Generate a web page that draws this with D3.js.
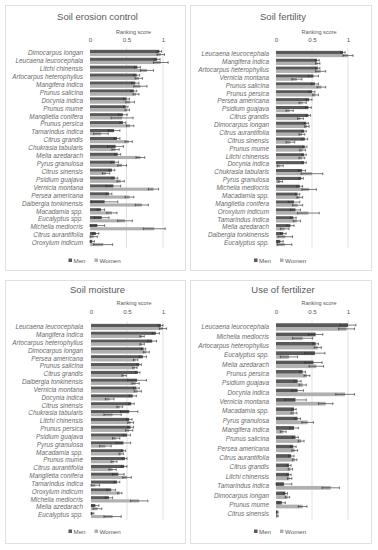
<!DOCTYPE html>
<html>
<head>
<meta charset="utf-8">
<script src="https://cdn.jsdelivr.net/npm/d3@7"></script>
<style>
  body { margin: 0; background: #fff; }
  svg { display: block; font-family: "Liberation Sans", Arial, sans-serif; }
</style>
</head>
<body>
<div id="chart"></div>
<script>
var width = 378, height = 550;

// ---- data (ranking scores) ----
var erosionSpecies = ["Dimocarpus longan", "Leucaena leucocephala", "Litchi chinensis", "Artocarpus heterophyllus",
  "Mangifera indica", "Prunus salicina", "Docynia indica", "Prunus mume", "Manglietia conifera", "Prunus persica",
  "Tamarindus indica", "Citrus grandis", "Chukrasia tabularis", "Melia azedarach", "Pyrus granulosa",
  "Citrus sinensis", "Psidium guajava", "Vernicia montana", "Persea americana", "Dalbergia tonkinensis",
  "Macadamia spp.", "Eucalyptus spp.", "Michelia mediocris", "Citrus aurantifolia", "Oroxylum indicum"];
var erosionMen =      [0.95, 0.92, 0.65, 0.64, 0.62, 0.60, 0.50, 0.49, 0.45, 0.45, 0.33, 0.37, 0.35, 0.38, 0.34, 0.30, 0.34, 0.32, 0.26, 0.20, 0.15, 0.16, 0.10, 0.08, 0.03];
var erosionMenErr =   [0.03, 0.04, 0.04, 0.04, 0.05, 0.04, 0.04, 0.03, 0.06, 0.04, 0.08, 0.04, 0.11, 0.04, 0.05, 0.04, 0.04, 0.10, 0.04, 0.18, 0.05, 0.10, 0.10, 0.04, 0.03];
var erosionWomen =    [0.97, 0.97, 0.78, 0.67, 0.69, 0.63, 0.55, 0.51, 0.44, 0.55, 0.15, 0.53, 0.35, 0.69, 0.44, 0.22, 0.42, 0.87, 0.54, 0.71, 0.30, 0.48, 0.88, 0.05, 0.18];
var erosionWomenErr = [0.05, 0.10, 0.09, 0.05, 0.09, 0.04, 0.06, 0.03, 0.15, 0.05, 0.10, 0.05, 0.05, 0.06, 0.06, 0.05, 0.05, 0.07, 0.06, 0.09, 0.07, 0.10, 0.15, 0.05, 0.13];

var fertilitySpecies = ["Leucaena leucocephala", "Mangifera indica", "Artocarpus heterophyllus", "Vernicia montana",
  "Prunus salicina", "Prunus persica", "Persea americana", "Psidium guajava", "Citrus grandis", "Dimocarpus longan",
  "Citrus aurantifolia", "Citrus sinensis", "Prunus mume", "Litchi chinensis", "Docynia indica",
  "Chukrasia tabularis", "Pyrus granulosa", "Michelia mediocris", "Macadamia spp.", "Manglietia conifera",
  "Oroxylum indicum", "Tamarindus indica", "Melia azedarach", "Dalbergia tonkinensis", "Eucalyptus spp."];
var fertilityMen =      [0.93, 0.57, 0.58, 0.52, 0.54, 0.50, 0.46, 0.45, 0.45, 0.42, 0.39, 0.40, 0.40, 0.39, 0.39, 0.36, 0.35, 0.33, 0.30, 0.25, 0.27, 0.24, 0.20, 0.10, 0.06];
var fertilityMenErr =   [0.03, 0.03, 0.03, 0.07, 0.05, 0.04, 0.04, 0.04, 0.03, 0.03, 0.03, 0.04, 0.03, 0.03, 0.03, 0.05, 0.03, 0.04, 0.03, 0.08, 0.07, 0.04, 0.05, 0.04, 0.04];
var fertilityWomen =    [1.00, 0.58, 0.62, 0.29, 0.63, 0.55, 0.37, 0.19, 0.34, 0.43, 0.36, 0.20, 0.37, 0.36, 0.06, 0.50, 0.06, 0.46, 0.33, 0.30, 0.45, 0.29, 0.12, 0.13, 0.12];
var fertilityWomenErr = [0.07, 0.03, 0.07, 0.07, 0.06, 0.04, 0.05, 0.05, 0.04, 0.03, 0.04, 0.06, 0.04, 0.04, 0.04, 0.15, 0.03, 0.10, 0.04, 0.07, 0.15, 0.05, 0.06, 0.10, 0.10];

var moistureSpecies = ["Leucaena leucocephala", "Mangifera indica", "Artocarpus heterophyllus", "Dimocarpus longan",
  "Persea americana", "Prunus salicina", "Citrus grandis", "Dalbergia tonkinensis", "Vernicia montana",
  "Docynia indica", "Citrus sinensis", "Chukrasia tabularis", "Litchi chinensis", "Prunus persica",
  "Psidium guajava", "Pyrus granulosa", "Macadamia spp.", "Prunus mume", "Citrus aurantifolia",
  "Manglietia conifera", "Tamarindus indica", "Oroxylum indicum", "Michelia mediocris", "Melia azedarach",
  "Eucalyptus spp."];
var moistureMen =      [0.97, 0.90, 0.85, 0.73, 0.72, 0.67, 0.65, 0.64, 0.63, 0.58, 0.56, 0.53, 0.53, 0.55, 0.50, 0.45, 0.45, 0.47, 0.46, 0.38, 0.36, 0.28, 0.25, 0.06, 0.02];
var moistureMenErr =   [0.03, 0.05, 0.06, 0.03, 0.05, 0.03, 0.03, 0.13, 0.04, 0.05, 0.04, 0.12, 0.04, 0.04, 0.05, 0.10, 0.03, 0.03, 0.04, 0.08, 0.04, 0.06, 0.05, 0.05, 0.02];
var moistureWomen =    [1.00, 0.71, 0.71, 0.77, 0.62, 0.61, 0.46, 0.62, 0.65, 0.26, 0.40, 0.30, 0.55, 0.53, 0.35, 0.20, 0.42, 0.32, 0.30, 0.50, 0.06, 0.40, 0.67, 0.09, 0.30];
var moistureWomenErr = [0.05, 0.03, 0.03, 0.04, 0.03, 0.03, 0.03, 0.05, 0.05, 0.06, 0.04, 0.12, 0.04, 0.05, 0.05, 0.08, 0.03, 0.04, 0.05, 0.06, 0.06, 0.03, 0.12, 0.06, 0.12];

var fertilizerSpecies = ["Leucaena leucocephala", "Michelia mediocris", "Artocarpus heterophyllus", "Eucalyptus spp.",
  "Melia azedarach", "Prunus persica", "Psidium guajava", "Docynia indica", "Vernicia montana", "Macadamia spp.",
  "Pyrus granulosa", "Mangifera indica", "Prunus salicina", "Persea americana", "Citrus aurantifolia",
  "Citrus grandis", "Litchi chinensis", "Tamarindus indica", "Dimocarpus longan", "Prunus mume",
  "Citrus sinensis"];
var fertilizerMen =      [1.00, 0.55, 0.55, 0.54, 0.52, 0.37, 0.30, 0.30, 0.27, 0.25, 0.30, 0.25, 0.27, 0.24, 0.21, 0.18, 0.18, 0.11, 0.13, 0.08, 0.02];
var fertilizerMenErr =   [0.11, 0.10, 0.04, 0.14, 0.12, 0.04, 0.05, 0.08, 0.15, 0.03, 0.04, 0.06, 0.04, 0.04, 0.04, 0.03, 0.03, 0.11, 0.03, 0.05, 0.01];
var fertilizerWomen =    [0.98, 0.37, 0.58, 0.18, 0.56, 0.43, 0.37, 0.96, 0.69, 0.25, 0.44, 0.10, 0.35, 0.26, 0.26, 0.20, 0.19, 0.76, 0.16, 0.37, 0.02];
var fertilizerWomenErr = [0.11, 0.14, 0.05, 0.12, 0.10, 0.04, 0.05, 0.13, 0.10, 0.04, 0.08, 0.04, 0.04, 0.04, 0.03, 0.03, 0.03, 0.12, 0.03, 0.06, 0.01];

var ticks = [0, 0.5, 1];
var seriesNames = ["Men", "Women"];
var colours = ["#595959", "#b0b0b0"];

// panel placement (pixels)
var panels = [
  { title: "Soil erosion control", species: erosionSpecies, men: erosionMen, menErr: erosionMenErr, women: erosionWomen, womenErr: erosionWomenErr,
    box: [5.5, 5.5, 180, 265], title_y: 20, rs_y: 34, tick_y: 43, x0: 90, x1: 163, yFirst: 53, yLast: 243, label_x: 83, legend_y: 261 },
  { title: "Soil fertility", species: fertilitySpecies, men: fertilityMen, menErr: fertilityMenErr, women: fertilityWomen, womenErr: fertilityWomenErr,
    box: [190.5, 5.5, 181, 265], title_y: 20, rs_y: 34, tick_y: 43, x0: 276, x1: 348, yFirst: 54, yLast: 243, label_x: 269, legend_y: 261 },
  { title: "Soil moisture", species: moistureSpecies, men: moistureMen, menErr: moistureMenErr, women: moistureWomen, womenErr: moistureWomenErr,
    box: [5.5, 280.5, 180, 263], title_y: 293, rs_y: 305, tick_y: 315, x0: 91, x1: 163, yFirst: 327, yLast: 515, label_x: 83, legend_y: 532 },
  { title: "Use of fertilizer", species: fertilizerSpecies, men: fertilizerMen, menErr: fertilizerMenErr, women: fertilizerWomen, womenErr: fertilizerWomenErr,
    box: [190.5, 280.5, 181, 263], title_y: 293, rs_y: 305, tick_y: 315, x0: 276, x1: 348, yFirst: 327, yLast: 514, label_x: 269, legend_y: 532 }
];

var svg = d3.select("#chart").append("svg")
  .attr("width", width)
  .attr("height", height);

panels.forEach(drawPanel);

function drawPanel(p) {
  var g = svg.append("g");

  g.append("rect")
    .attr("x", p.box[0]).attr("y", p.box[1])
    .attr("width", p.box[2]).attr("height", p.box[3])
    .attr("fill", "#fff")
    .attr("stroke", "#d9d9d9")
    .attr("stroke-width", 0.8);

  var x = d3.scaleLinear().domain([0, 1]).range([p.x0, p.x1]);
  var step = (p.yLast - p.yFirst) / (p.species.length - 1);
  var y = d3.scalePoint().domain(p.species).range([p.yFirst, p.yLast]);
  var barH = step * 0.4;

  var cx = p.box[0] + p.box[2] / 2;

  g.append("text")
    .attr("x", cx + 2).attr("y", p.title_y)
    .attr("text-anchor", "middle")
    .attr("font-size", 9.5)
    .attr("fill", "#595959")
    .text(p.title);

  g.append("text")
    .attr("x", x(0.5) + 7).attr("y", p.rs_y)
    .attr("text-anchor", "middle")
    .attr("font-size", 5.5)
    .attr("fill", "#595959")
    .text("Ranking score");

  // gridlines
  g.append("g").selectAll("line")
    .data(ticks.slice(1))
    .enter().append("line")
    .attr("x1", function (d) { return x(d); })
    .attr("x2", function (d) { return x(d); })
    .attr("y1", p.yFirst - step / 2 - 2)
    .attr("y2", p.yLast + step / 2 + 1)
    .attr("stroke", "#d9d9d9")
    .attr("stroke-width", 0.8);

  var axis = d3.axisTop(x).tickValues(ticks).tickSize(0).tickFormat(d3.format(""));
  var ax = g.append("g")
    .attr("transform", "translate(0," + (p.tick_y + 2) + ")")
    .call(axis);
  ax.select(".domain").remove();
  ax.selectAll("text")
    .attr("font-family", "Liberation Sans, Arial, sans-serif")
    .attr("font-size", 6.2)
    .attr("fill", "#595959");

  // category labels
  g.append("g").selectAll("text")
    .data(p.species)
    .enter().append("text")
    .attr("x", p.label_x)
    .attr("y", function (d) { return y(d); })
    .attr("dy", "0.35em")
    .attr("text-anchor", "end")
    .attr("font-size", 6.4)
    .attr("font-style", "italic")
    .attr("fill", "#6a6a6a")
    .text(function (d) { return d; });

  var rows = p.species.map(function (s, i) {
    return [
      { s: s, k: 0, v: p.men[i], e: p.menErr[i] },
      { s: s, k: 1, v: p.women[i], e: p.womenErr[i] }
    ];
  });
  var bars = d3.merge(rows);

  g.append("g").selectAll("rect")
    .data(bars)
    .enter().append("rect")
    .attr("x", x(0))
    .attr("y", function (d) { return y(d.s) - barH + d.k * barH; })
    .attr("width", function (d) { return x(d.v) - x(0); })
    .attr("height", barH)
    .attr("fill", function (d) { return colours[d.k]; });

  // error bars
  var eg = g.append("g").attr("stroke", "#262626").attr("stroke-width", 0.6);
  bars.forEach(function (d) {
    var cy = y(d.s) - barH / 2 + d.k * barH;
    var a = x(Math.max(0, d.v - d.e)), b = x(d.v + d.e);
    eg.append("line").attr("x1", a).attr("x2", b).attr("y1", cy).attr("y2", cy);
    eg.append("line").attr("x1", a).attr("x2", a).attr("y1", cy - 1.3).attr("y2", cy + 1.3);
    eg.append("line").attr("x1", b).attr("x2", b).attr("y1", cy - 1.3).attr("y2", cy + 1.3);
  });

  // legend
  var lg = g.append("g").attr("transform", "translate(" + (cx - 27) + "," + p.legend_y + ")");
  var offs = [0, 26];
  seriesNames.forEach(function (n, i) {
    lg.append("rect").attr("x", offs[i]).attr("y", -2.5).attr("width", 3.5).attr("height", 3.5).attr("fill", colours[i]);
    lg.append("text").attr("x", offs[i] + 5).attr("y", 0).attr("dy", "0.35em")
      .attr("font-size", 6.2).attr("fill", "#595959").text(n);
  });
}
</script>
</body>
</html>
